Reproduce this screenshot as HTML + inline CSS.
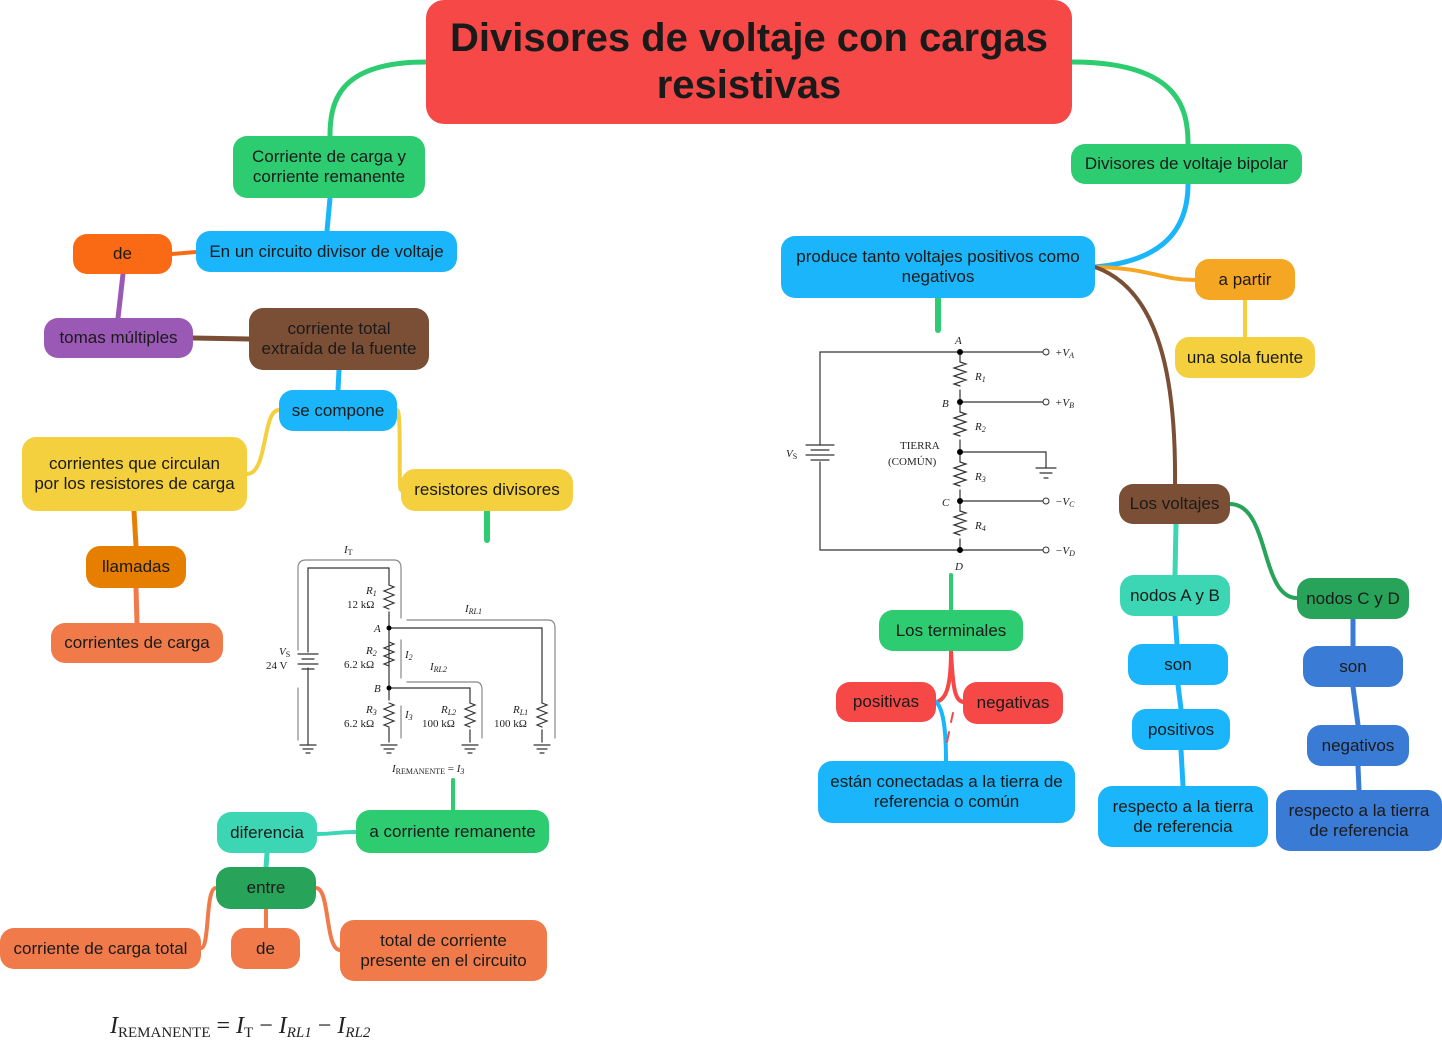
<!DOCTYPE html>
<html><head><meta charset="utf-8"><style>
body{margin:0;width:1442px;height:1050px;background:#fff;position:relative;overflow:hidden;font-family:"Liberation Sans",sans-serif}
.n{position:absolute;display:flex;align-items:center;justify-content:center;text-align:center;border-radius:14px;font-size:17px;color:#1a1a1a;line-height:20px;box-sizing:border-box;padding:0 4px;white-space:nowrap}
.g{background:#2ecc71}.b{background:#1ab5fb}.y{background:#f4d03f}.o{background:#fa6a14}.p{background:#9b59b6}.br{background:#7b4f35}
.c{background:#f07a4a}.t{background:#3dd6b4}.dg{background:#27a35a}.db{background:#3a7bd5}.r{background:#f74848}.lo{background:#e67e00}.or{background:#f5a623}
svg{position:absolute;left:0;top:0}
.s{font-family:"Liberation Serif",serif;font-size:11px;fill:#222}
</style></head><body>
<svg width="1442" height="1050" fill="none" stroke-linecap="round">
<path d="M426,62 C340,62 330,100 330,136" stroke="#2ecc71" stroke-width="5"/>
<path d="M1072,62 C1180,62 1188,110 1188,144" stroke="#2ecc71" stroke-width="5"/>
<path d="M330,198 L327,231" stroke="#1ab5fb" stroke-width="5"/>
<path d="M196,252 L172,254" stroke="#fa6a14" stroke-width="4"/>
<path d="M123,274 L118,318" stroke="#9b59b6" stroke-width="5"/>
<path d="M193,338 L249,339" stroke="#7b4f35" stroke-width="5"/>
<path d="M339,370 L338,390" stroke="#1ab5fb" stroke-width="5"/>
<path d="M279,410 C262,410 268,474 247,474" stroke="#f4d03f" stroke-width="4"/>
<path d="M397,410 C402,410 398,490 401,490" stroke="#f4d03f" stroke-width="4"/>
<path d="M487,511 L487,540" stroke="#2ecc71" stroke-width="6"/>
<path d="M134,511 L136,546" stroke="#e67e00" stroke-width="5"/>
<path d="M136,588 L137,623" stroke="#f07a4a" stroke-width="5"/>
<path d="M453,780 L453,810" stroke="#2ecc71" stroke-width="4"/>
<path d="M356,832 C335,832 335,834 317,834" stroke="#3dd6b4" stroke-width="4"/>
<path d="M267,853 L266,867" stroke="#3dd6b4" stroke-width="5"/>
<path d="M216,888 C205,888 210,948 201,948" stroke="#f07a4a" stroke-width="4"/>
<path d="M266,909 L266,928" stroke="#f07a4a" stroke-width="4"/>
<path d="M316,888 C330,888 325,950 340,950" stroke="#f07a4a" stroke-width="4"/>
<path d="M1188,184 C1188,240 1150,262 1095,267" stroke="#1ab5fb" stroke-width="5"/>
<path d="M1095,267 C1150,268 1160,280 1195,280" stroke="#f5a623" stroke-width="4"/>
<path d="M1245,300 L1245,337" stroke="#f4d03f" stroke-width="4"/>
<path d="M1095,267 C1160,290 1176,380 1175,484" stroke="#7b4f35" stroke-width="4"/>
<path d="M938,298 L938,330" stroke="#2ecc71" stroke-width="6"/>
<path d="M1176,524 L1175,575" stroke="#3dd6b4" stroke-width="5"/>
<path d="M1230,504 C1270,504 1260,598 1297,598" stroke="#27a35a" stroke-width="4"/>
<path d="M1175,616 L1177,644" stroke="#1ab5fb" stroke-width="5"/>
<path d="M1178,685 L1181,709" stroke="#1ab5fb" stroke-width="5"/>
<path d="M1181,750 L1183,786" stroke="#1ab5fb" stroke-width="5"/>
<path d="M1353,619 L1353,646" stroke="#3a7bd5" stroke-width="5"/>
<path d="M1353,687 L1358,725" stroke="#3a7bd5" stroke-width="5"/>
<path d="M1358,766 L1359,790" stroke="#3a7bd5" stroke-width="5"/>
<path d="M951,575 L951,610" stroke="#2ecc71" stroke-width="4"/>
<path d="M951,651 C951,690 945,700 936,702" stroke="#f74848" stroke-width="4"/>
<path d="M951,651 C953,690 955,700 963,702" stroke="#f74848" stroke-width="4"/>
<path d="M936,702 C945,710 946,740 946,761" stroke="#1ab5fb" stroke-width="4"/>
<path d="M953,713 L951,722 M949,732 L947,742" stroke="#f74848" stroke-width="2"/>
<g stroke="#333" stroke-width="1.2">
<path d="M308,745 V668 M308,652 V568 H389 V585 M389,612 V688 M389,688 V700 M389,728 V742 M389,628 H542 V703 M542,730 V742 M389,688 H470 V703 M470,730 V742"/>
<path d="M389,585 l5,2 -10,4 10,4 -10,4 10,4 -10,4 5,2" />
<path d="M389,642 l5,2 -10,4 10,4 -10,4 10,4 -10,4 5,2 M389,703 l5,2 -10,4 10,4 -10,4 10,4 -10,4 5,2 M470,703 l5,2 -10,4 10,4 -10,4 10,4 -10,4 5,2 M542,703 l5,2 -10,4 10,4 -10,4 10,4 -10,4 5,2"/>
<path d="M298,654 H318 M302,659 H314 M298,664 H318 M302,669 H314"/>
<path d="M300,745 H316 M303,749 H313 M306,753 H310 M381,745 H397 M384,749 H394 M387,753 H391 M462,745 H478 M465,749 H475 M468,753 H472 M534,745 H550 M537,749 H547 M540,753 H544"/>
<g stroke="#888"><path d="M298,650 V568 Q298,560 306,560 H394 Q401,560 401,568 V618 M407,620 H548 Q555,620 555,628 V738 M401,640 V678 M407,682 H476 Q482,682 482,690 V738 M401,706 V738 M298,740 V688"/></g>
</g>
<circle cx="389" cy="628" r="2.5" fill="#000"/><circle cx="389" cy="688" r="2.5" fill="#000"/>
<text class="s" x="344" y="553" font-style="italic">I<tspan font-size="8" font-style="normal" dy="2">T</tspan></text>
<text class="s" x="366" y="594" font-style="italic">R<tspan font-size="8" dy="2">1</tspan></text><text class="s" x="347" y="608">12 kΩ</text>
<text class="s" x="374" y="632" font-style="italic">A</text><text class="s" x="374" y="692" font-style="italic">B</text>
<text class="s" x="465" y="612" font-style="italic">I<tspan font-size="8" dy="2">RL1</tspan></text>
<text class="s" x="366" y="654" font-style="italic">R<tspan font-size="8" dy="2">2</tspan></text><text class="s" x="344" y="668">6.2 kΩ</text>
<text class="s" x="405" y="658" font-style="italic">I<tspan font-size="8" dy="2">2</tspan></text>
<text class="s" x="430" y="670" font-style="italic">I<tspan font-size="8" dy="2">RL2</tspan></text>
<text class="s" x="279" y="655" font-style="italic">V<tspan font-size="8" font-style="normal" dy="2">S</tspan></text><text class="s" x="266" y="669">24 V</text>
<text class="s" x="366" y="713" font-style="italic">R<tspan font-size="8" dy="2">3</tspan></text><text class="s" x="344" y="727">6.2 kΩ</text>
<text class="s" x="405" y="718" font-style="italic">I<tspan font-size="8" dy="2">3</tspan></text>
<text class="s" x="441" y="713" font-style="italic">R<tspan font-size="8" dy="2">L2</tspan></text><text class="s" x="422" y="727">100 kΩ</text>
<text class="s" x="513" y="713" font-style="italic">R<tspan font-size="8" dy="2">L1</tspan></text><text class="s" x="494" y="727">100 kΩ</text>
<text class="s" x="392" y="772" font-style="italic">I<tspan font-size="8" font-style="normal" dy="2">REMANENTE</tspan><tspan font-style="normal" dy="-2"> = </tspan>I<tspan font-size="8" dy="2">3</tspan></text>
<g stroke="#333" stroke-width="1.2">
<path d="M960,352 H1043 M960,402 H1043 M960,501 H1043 M960,550 H1043 M960,452 H1046 V468 M960,352 H820 V445 M820,462 V550 H960 M960,352 V362 M960,390 V412 M960,440 V462 M960,490 V511 M960,539 V550"/>
<path d="M960,362 l6,2 -12,4 12,4 -12,4 12,4 -12,4 6,2 M960,412 l6,2 -12,4 12,4 -12,4 12,4 -12,4 6,2 M960,462 l6,2 -12,4 12,4 -12,4 12,4 -12,4 6,2 M960,511 l6,2 -12,4 12,4 -12,4 12,4 -12,4 6,2"/>
<path d="M806,445 H834 M811,450 H829 M806,455 H834 M811,460 H829 M1036,468 H1056 M1040,473 H1052 M1044,478 H1048"/>
</g>
<g fill="#fff" stroke="#333"><circle cx="1046" cy="352" r="3"/><circle cx="1046" cy="402" r="3"/><circle cx="1046" cy="501" r="3"/><circle cx="1046" cy="550" r="3"/></g>
<g fill="#000"><circle cx="960" cy="352" r="3"/><circle cx="960" cy="402" r="3"/><circle cx="960" cy="452" r="3"/><circle cx="960" cy="501" r="3"/><circle cx="960" cy="550" r="3"/></g>
<text class="s" x="955" y="344" font-style="italic" font-size="12">A</text><text class="s" x="942" y="407" font-style="italic">B</text><text class="s" x="942" y="506" font-style="italic">C</text><text class="s" x="955" y="570" font-style="italic">D</text>
<text class="s" x="975" y="380" font-style="italic">R<tspan font-size="8" dy="2">1</tspan></text><text class="s" x="975" y="430" font-style="italic">R<tspan font-size="8" dy="2">2</tspan></text><text class="s" x="975" y="480" font-style="italic">R<tspan font-size="8" dy="2">3</tspan></text><text class="s" x="975" y="529" font-style="italic">R<tspan font-size="8" dy="2">4</tspan></text>
<text class="s" x="900" y="449">TIERRA</text><text class="s" x="888" y="465">(COMÚN)</text>
<text class="s" x="786" y="457" font-style="italic">V<tspan font-size="8" font-style="normal" dy="2">S</tspan></text>
<text class="s" x="1055" y="356" font-style="italic">+V<tspan font-size="8" dy="2">A</tspan></text><text class="s" x="1055" y="406" font-style="italic">+V<tspan font-size="8" dy="2">B</tspan></text><text class="s" x="1055" y="505" font-style="italic">−V<tspan font-size="8" dy="2">C</tspan></text><text class="s" x="1055" y="554" font-style="italic">−V<tspan font-size="8" dy="2">D</tspan></text>
<text x="110" y="1033" font-family="Liberation Serif,serif" font-size="24" fill="#222" font-style="italic">I<tspan font-size="15" font-style="normal" dy="4">REMANENTE</tspan><tspan font-style="normal" dy="-4"> = </tspan>I<tspan font-size="15" font-style="normal" dy="4">T</tspan><tspan font-style="normal" dy="-4"> − </tspan>I<tspan font-size="15" dy="4">RL1</tspan><tspan font-style="normal" dy="-4"> − </tspan>I<tspan font-size="15" dy="4">RL2</tspan></text>
</svg>
<div class="n r" style="left:426px;top:0;width:646px;height:124px;font-size:40px;font-weight:bold;line-height:47px;border-radius:18px">Divisores de voltaje con cargas<br>resistivas</div>
<div class="n g" style="left:233px;top:136px;width:192px;height:62px">Corriente de carga y<br>corriente remanente</div>
<div class="n b" style="left:196px;top:231px;width:261px;height:41px">En un circuito divisor de voltaje</div>
<div class="n o" style="left:73px;top:234px;width:99px;height:40px">de</div>
<div class="n p" style="left:44px;top:318px;width:149px;height:40px">tomas múltiples</div>
<div class="n br" style="left:249px;top:308px;width:180px;height:62px">corriente total<br>extraída de la fuente</div>
<div class="n b" style="left:279px;top:390px;width:118px;height:41px">se compone</div>
<div class="n y" style="left:22px;top:437px;width:225px;height:74px">corrientes que circulan<br>por los resistores de carga</div>
<div class="n y" style="left:401px;top:469px;width:172px;height:42px">resistores divisores</div>
<div class="n lo" style="left:86px;top:546px;width:100px;height:42px">llamadas</div>
<div class="n c" style="left:51px;top:623px;width:172px;height:40px">corrientes de carga</div>
<div class="n t" style="left:217px;top:812px;width:100px;height:41px">diferencia</div>
<div class="n g" style="left:356px;top:810px;width:193px;height:43px">a corriente remanente</div>
<div class="n dg" style="left:216px;top:867px;width:100px;height:42px">entre</div>
<div class="n c" style="left:0;top:928px;width:201px;height:41px">corriente de carga total</div>
<div class="n c" style="left:231px;top:928px;width:69px;height:41px">de</div>
<div class="n c" style="left:340px;top:920px;width:207px;height:61px">total de corriente<br>presente en el circuito</div>
<div class="n g" style="left:1071px;top:144px;width:231px;height:40px">Divisores de voltaje bipolar</div>
<div class="n b" style="left:781px;top:236px;width:314px;height:62px">produce tanto voltajes positivos como<br>negativos</div>
<div class="n or" style="left:1195px;top:259px;width:100px;height:41px">a partir</div>
<div class="n y" style="left:1175px;top:337px;width:140px;height:41px">una sola fuente</div>
<div class="n br" style="left:1119px;top:484px;width:111px;height:40px">Los voltajes</div>
<div class="n t" style="left:1120px;top:575px;width:110px;height:41px">nodos A y B</div>
<div class="n dg" style="left:1297px;top:578px;width:112px;height:41px">nodos C y D</div>
<div class="n b" style="left:1128px;top:644px;width:100px;height:41px">son</div>
<div class="n db" style="left:1303px;top:646px;width:100px;height:41px">son</div>
<div class="n b" style="left:1132px;top:709px;width:98px;height:41px">positivos</div>
<div class="n db" style="left:1307px;top:725px;width:102px;height:41px">negativos</div>
<div class="n b" style="left:1098px;top:786px;width:170px;height:61px">respecto a la tierra<br>de referencia</div>
<div class="n db" style="left:1276px;top:790px;width:166px;height:61px">respecto a la tierra<br>de referencia</div>
<div class="n g" style="left:879px;top:610px;width:144px;height:41px">Los terminales</div>
<div class="n r" style="left:836px;top:682px;width:100px;height:40px">positivas</div>
<div class="n r" style="left:963px;top:682px;width:100px;height:42px">negativas</div>
<div class="n b" style="left:818px;top:761px;width:257px;height:62px">están conectadas a la tierra de<br>referencia o común</div>
</body></html>
